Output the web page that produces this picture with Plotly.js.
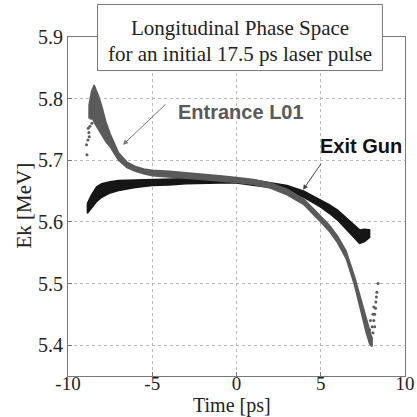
<!DOCTYPE html>
<html>
<head>
<meta charset="utf-8">
<script src="https://cdn.plot.ly/plotly-3.0.1.min.js"></script>
<style>html,body{margin:0;padding:0;background:#fff;}#chart{width:417px;height:417px;}</style>
</head>
<body>
<div id="chart"></div>
<script>
// ---- Data ----
// Exit Gun bunch (black): time [ps], upper and lower edge of the band [MeV]
var gunTime  = [-8.85, -8.6, -8.3, -8.0, -7.5, -7.0, -6.0, -5.0, -4.0, -3.0, -2.0, -1.0, 0, 1, 2, 3, 4, 5, 5.5, 6, 6.5, 7.0, 7.3, 7.6, 7.9];
var gunUpper = [5.630, 5.644, 5.657, 5.662, 5.665, 5.667, 5.668, 5.669, 5.670, 5.670, 5.671, 5.671, 5.671, 5.668, 5.664, 5.659, 5.650, 5.636, 5.628, 5.619, 5.607, 5.594, 5.587, 5.588, 5.587];
var gunLower = [5.614, 5.622, 5.633, 5.640, 5.647, 5.651, 5.656, 5.659, 5.660, 5.662, 5.663, 5.663, 5.663, 5.660, 5.656, 5.649, 5.640, 5.624, 5.614, 5.603, 5.589, 5.574, 5.565, 5.568, 5.575];

// Entrance L01 bunch (grey): time [ps], upper and lower edge of the band [MeV]
var l01Time  = [-8.75, -8.6, -8.45, -8.2, -8.0, -7.75, -7.5, -7.25, -7.0, -6.5, -6.0, -5.5, -5.0, -4.0, -3.0, -2.0, -1.0, 0, 1, 2, 3, 4, 5, 5.5, 6.0, 6.5, 7.0, 7.4, 7.7, 7.9, 8.05];
var l01Upper = [5.790, 5.812, 5.822, 5.805, 5.788, 5.762, 5.743, 5.726, 5.712, 5.697, 5.690, 5.686, 5.684, 5.682, 5.680, 5.678, 5.675, 5.672, 5.669, 5.663, 5.653, 5.637, 5.610, 5.595, 5.577, 5.553, 5.512, 5.472, 5.445, 5.425, 5.410];
var l01Lower = [5.768, 5.772, 5.762, 5.750, 5.742, 5.730, 5.722, 5.711, 5.700, 5.688, 5.682, 5.678, 5.675, 5.673, 5.671, 5.669, 5.667, 5.664, 5.661, 5.655, 5.644, 5.628, 5.600, 5.585, 5.566, 5.541, 5.498, 5.455, 5.420, 5.402, 5.398];

// Stray macro-particles of the Entrance L01 bunch
var l01StrayTime   = [-8.90, -8.87, -8.82, -8.76, -8.70, -8.80, -8.62, -8.74, -8.66, -8.58, 8.40, 8.33, 8.30, 8.27, 8.25, 8.20, 8.15, 8.20, 8.10, 8.05, 7.95, 8.10, 8.00, 7.90, 8.15];
var l01StrayEnergy = [5.725, 5.709, 5.733, 5.745, 5.755, 5.752, 5.768, 5.738, 5.780, 5.760, 5.500, 5.486, 5.478, 5.470, 5.460, 5.450, 5.440, 5.430, 5.420, 5.430, 5.440, 5.450, 5.412, 5.425, 5.462];

// Tick labels and texts
var xTicks = [-10, -5, 0, 5, 10];
var xTickText = ["-10", "-5", "0", "5", "10"];
var yTicks = [5.4, 5.5, 5.6, 5.7, 5.8, 5.9];
var yTickText = ["5.4", "5.5", "5.6", "5.7", "5.8", "5.9"];
var titleLines = ["Longitudinal Phase Space", "for an initial 17.5 ps laser pulse"];
var axisTitles = ["Time [ps]", "Ek [MeV]"];
var seriesNames = ["Exit Gun", "Entrance L01"];

function band(xs, up, lo) {
  var px = xs.slice(), py = up.slice();
  for (var i = xs.length - 1; i >= 0; i--) { px.push(xs[i]); py.push(lo[i]); }
  px.push(xs[0]); py.push(up[0]);
  return {x: px, y: py};
}
var gunBand = band(gunTime, gunUpper, gunLower);
var l01Band = band(l01Time, l01Upper, l01Lower);

var GREY = '#5a5a5a', BLACK = '#161616';
var serif = '"Liberation Serif", "Times New Roman", Times, serif';
var sans = '"Liberation Sans", Arial, Helvetica, sans-serif';

var traces = [
  {type: 'scatter', mode: 'lines', x: gunBand.x, y: gunBand.y, fill: 'toself',
   fillcolor: BLACK, line: {color: BLACK, width: 1.5}, name: seriesNames[0], hoverinfo: 'skip'},
  {type: 'scatter', mode: 'lines', x: l01Band.x, y: l01Band.y, fill: 'toself',
   fillcolor: GREY, line: {color: GREY, width: 1.5}, name: seriesNames[1], hoverinfo: 'skip'},
  {type: 'scatter', mode: 'markers', x: l01StrayTime, y: l01StrayEnergy, xaxis: 'x2', yaxis: 'y',
   marker: {color: GREY, size: 3}, name: seriesNames[1] + ' (stray)', hoverinfo: 'skip'}
];

var layout = {
  width: 417, height: 417,
  margin: {l: 68, r: 12, t: 37, b: 41},
  paper_bgcolor: '#ffffff', plot_bgcolor: '#ffffff',
  showlegend: false,
  xaxis: {
    range: [-10, 10], tickmode: 'array', tickvals: xTicks, ticktext: xTickText,
    showline: true, mirror: true, linecolor: '#777', linewidth: 1,
    ticks: 'inside', ticklen: 4, tickcolor: '#777',
    showgrid: true, gridcolor: '#b8b8b8', griddash: 'dot', gridwidth: 1,
    zeroline: false, showticklabels: false
  },
  // same time scale; carries the tick labels a few pixels closer to the frame (tight Matlab spacing)
  xaxis2: {
    overlaying: 'x', matches: 'x', anchor: 'free', position: 0.018, side: 'bottom',
    range: [-10, 10], tickmode: 'array', tickvals: xTicks, ticktext: xTickText,
    showline: false, ticks: '', showgrid: false, zeroline: false,
    tickfont: {family: serif, size: 19, color: '#222'}
  },
  yaxis: {
    range: [5.35, 5.9], tickmode: 'array', tickvals: yTicks, ticktext: yTickText,
    showline: true, mirror: true, linecolor: '#777', linewidth: 1,
    ticks: 'inside', ticklen: 4, tickcolor: '#777',
    showgrid: true, gridcolor: '#b8b8b8', griddash: 'dot', gridwidth: 1,
    zeroline: false,
    tickfont: {family: serif, size: 20, color: '#222'}
  },
  shapes: [
    {type: 'rect', xref: 'paper', yref: 'paper', x0: 0.0875, x1: 0.933, y0: 0.901, y1: 1.096,
     fillcolor: '#ffffff', line: {color: '#777', width: 1}, layer: 'above'}
  ],
  annotations: [
    {xref: 'paper', yref: 'paper', x: 0.510, y: (375.5 - 29) / 338, text: titleLines[0],
     showarrow: false, font: {family: serif, size: 21, color: '#222'}, xanchor: 'center', yanchor: 'middle'},
    {xref: 'paper', yref: 'paper', x: 0.510, y: (375.5 - 54) / 338, text: titleLines[1],
     showarrow: false, font: {family: serif, size: 21, color: '#222'}, xanchor: 'center', yanchor: 'middle'},
    {xref: 'paper', yref: 'paper', x: (232 - 68.5) / 337, y: (375.5 - 417) / 338, text: axisTitles[0],
     showarrow: false, font: {family: serif, size: 20, color: '#222'}, xanchor: 'center', yanchor: 'bottom', borderpad: 0},
    {xref: 'paper', yref: 'paper', x: (24 - 68.5) / 337, y: (375.5 - 206) / 338, text: axisTitles[1],
     textangle: -90, showarrow: false, font: {family: serif, size: 21, color: '#222'}, xanchor: 'center', yanchor: 'middle'},
    {x: 0.27, y: 5.779, text: '<b>' + seriesNames[1] + '</b>', showarrow: false,
     font: {family: sans, size: 20, color: '#595959'}},
    {x: 7.39, y: 5.723, text: '<b>' + seriesNames[0] + '</b>', showarrow: false,
     font: {family: sans, size: 20, color: '#111'}},
    {x: -6.74, y: 5.725, ax: -4.12, ay: 5.793, axref: 'x', ayref: 'y', text: '',
     showarrow: true, arrowhead: 2, arrowsize: 1, arrowwidth: 1, arrowcolor: '#777'},
    {x: 3.95, y: 5.652, ax: 5.08, ay: 5.697, axref: 'x', ayref: 'y', text: '',
     showarrow: true, arrowhead: 2, arrowsize: 1, arrowwidth: 1, arrowcolor: '#444'}
  ]
};

Plotly.newPlot('chart', traces, layout, {staticPlot: true, displayModeBar: false});
</script>
</body>
</html>
